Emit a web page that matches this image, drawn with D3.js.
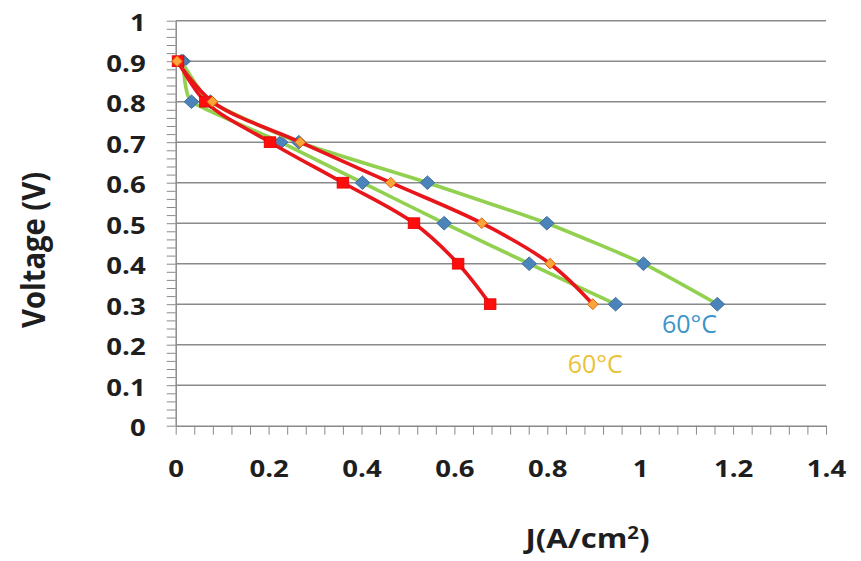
<!DOCTYPE html>
<html>
<head>
<meta charset="utf-8">
<script src="https://cdn.jsdelivr.net/npm/d3@7"></script>
<style>
  html, body { margin: 0; padding: 0; background: #fff; }
  svg { display: block; }
</style>
</head>
<body>
<svg id="chart" width="861" height="561"></svg>
<script>
// Polarisation curves: cell voltage against current density
const voltage = [0.9, 0.8, 0.7, 0.6, 0.5, 0.4, 0.3];

// current density (A/cm²) at each voltage step
const jGreenLow  = [0.016, 0.034, 0.226, 0.402, 0.578, 0.761, 0.947];
const jGreenHigh = [0.012, 0.075, 0.265, 0.542, 0.799, 1.007, 1.166];
const jRedSquare = [0.005, 0.064, 0.203, 0.360, 0.513, 0.608, 0.677];
const jRedOrange = [0.003, 0.079, 0.268, 0.463, 0.659, 0.806, 0.898];

const xTickLabels = ["0", "0.2", "0.4", "0.6", "0.8", "1", "1.2", "1.4"];
const yTickLabels = ["0", "0.1", "0.2", "0.3", "0.4", "0.5", "0.6", "0.7", "0.8", "0.9", "1"];

const annotations = [
  { text: "60°C", j: 1.047, v: 0.228, color: "#3b95c9" },
  { text: "60°C", j: 0.844, v: 0.129, color: "#eac23a" }
];

const svg = d3.select("#chart");
const FONT = "'Open Sans', 'Liberation Sans', sans-serif";
const STRETCH = 1.15;

const x = d3.scaleLinear().domain([0, 1.4]).range([175.7, 826]);
const y = d3.scaleLinear().domain([0, 1]).range([425.7, 20.7]);

// horizontal gridlines every 0.1 V
svg.append("g")
  .selectAll("line")
  .data(yTickLabels.slice(1).map(Number))
  .join("line")
  .attr("x1", x(0)).attr("x2", x(1.4))
  .attr("y1", d => y(d)).attr("y2", d => y(d))
  .attr("stroke", "#8a8a8a").attr("stroke-width", 1.5);

// x axis: minor ticks every 0.04, labels every 0.2
const xTicks = d3.range(0, 36).map(i => +(i * 0.04).toFixed(2));
const xAxis = d3.axisBottom(x)
  .tickValues(xTicks)
  .tickSize(9)
  .tickSizeOuter(0)
  .tickFormat((d, i) => (i % 5 === 0 ? xTickLabels[i / 5] : ""));
const gx = svg.append("g").attr("transform", `translate(0,${y(0)})`).call(xAxis);
gx.select(".domain").attr("stroke", "#8a8a8a").attr("stroke-width", 1.5);
gx.selectAll(".tick line").attr("stroke", "#8a8a8a").attr("stroke-width", 1);
gx.selectAll(".tick text")
  .attr("y", 51.3).attr("dy", 0)
  .attr("transform", `scale(${STRETCH},1)`)
  .attr("fill", "#1e1e1e")
  .style("font-family", FONT).style("font-size", "24px").style("font-weight", 700);

// y axis: minor ticks every 0.02, labels every 0.1
const yTicks = d3.range(0, 51).map(i => +(i * 0.02).toFixed(2));
const yAxis = d3.axisLeft(y)
  .tickValues(yTicks)
  .tickSize(9)
  .tickSizeOuter(0)
  .tickFormat((d, i) => (i % 5 === 0 ? yTickLabels[i / 5] : ""));
const gy = svg.append("g").attr("transform", `translate(${x(0)},0)`).call(yAxis);
gy.select(".domain").attr("stroke", "#8a8a8a").attr("stroke-width", 1.5);
gy.selectAll(".tick line").attr("stroke", "#8a8a8a").attr("stroke-width", 1);
gy.selectAll(".tick text")
  .attr("x", -30 / STRETCH).attr("y", 10).attr("dy", 0)
  .attr("text-anchor", "end")
  .attr("transform", `scale(${STRETCH},1)`)
  .attr("fill", "#1e1e1e")
  .style("font-family", FONT).style("font-size", "24px").style("font-weight", 700);

// axis titles
svg.append("g")
  .attr("transform", "translate(45,250) rotate(-90) scale(1.08,1.18)")
  .append("text")
  .attr("text-anchor", "middle")
  .attr("fill", "#1e1e1e")
  .style("font-family", FONT).style("font-size", "27px").style("font-weight", 700)
  .text("Voltage (V)");

const xTitle = svg.append("g")
  .attr("transform", "translate(587.5,548.3) scale(1.2,1)")
  .append("text")
  .attr("text-anchor", "middle")
  .attr("fill", "#1e1e1e")
  .style("font-family", FONT).style("font-size", "26px").style("font-weight", 700);
xTitle.append("tspan").text("J(A/cm");
xTitle.append("tspan").attr("dy", -9).style("font-size", "17px").text("2");
xTitle.append("tspan").attr("dy", 9).text(")");

// series: green lines are nearly straight, red lines are smooth curves
const smooth = d3.curveCatmullRom.alpha(0.5);
const taut = d3.curveCardinal.tension(0.55);
const series = [
  { j: jGreenLow,  line: "#92d050", curve: taut,   marker: "diamond", fill: "#4a84ba", stroke: "#3d6f9e", hw: 7.3, hh: 6.8 },
  { j: jGreenHigh, line: "#92d050", curve: taut,   marker: "diamond", fill: "#4a84ba", stroke: "#3d6f9e", hw: 7.3, hh: 6.8 },
  { j: jRedSquare, line: "#e8161b", curve: smooth, marker: "square",  fill: "#ff0d0d", stroke: "#e00000", hw: 5.8, hh: 5.4 },
  { j: jRedOrange, line: "#e8161b", curve: smooth, marker: "diamond", fill: "#f9a53a", stroke: "#e2620e", hw: 5.4, hh: 5.4 }
];

series.forEach(s => {
  const pts = s.j.map((j, i) => [j, voltage[i]]);
  const line = d3.line()
    .x(d => x(d[0]))
    .y(d => y(d[1]))
    .curve(s.curve);
  svg.append("path")
    .datum(pts)
    .attr("d", line)
    .attr("fill", "none")
    .attr("stroke", s.line)
    .attr("stroke-width", 3.6)
    .attr("stroke-linejoin", "round")
    .attr("stroke-linecap", "round");

  const g = svg.append("g");
  if (s.marker === "square") {
    g.selectAll("rect").data(pts).join("rect")
      .attr("x", d => x(d[0]) - s.hw).attr("y", d => y(d[1]) - s.hh)
      .attr("width", s.hw * 2).attr("height", s.hh * 2)
      .attr("fill", s.fill).attr("stroke", s.stroke).attr("stroke-width", 0.8);
  } else {
    g.selectAll("path").data(pts).join("path")
      .attr("d", d => {
        const cx = x(d[0]), cy = y(d[1]);
        return `M${cx},${cy - s.hh}L${cx + s.hw},${cy}L${cx},${cy + s.hh}L${cx - s.hw},${cy}Z`;
      })
      .attr("fill", s.fill).attr("stroke", s.stroke).attr("stroke-width", 1);
  }
});

// temperature annotations
svg.append("g")
  .selectAll("text")
  .data(annotations)
  .join("text")
  .attr("x", d => x(d.j)).attr("y", d => y(d.v))
  .attr("fill", d => d.color)
  .style("font-family", FONT).style("font-size", "25px").style("font-weight", 400)
  .text(d => d.text);
</script>
</body>
</html>
